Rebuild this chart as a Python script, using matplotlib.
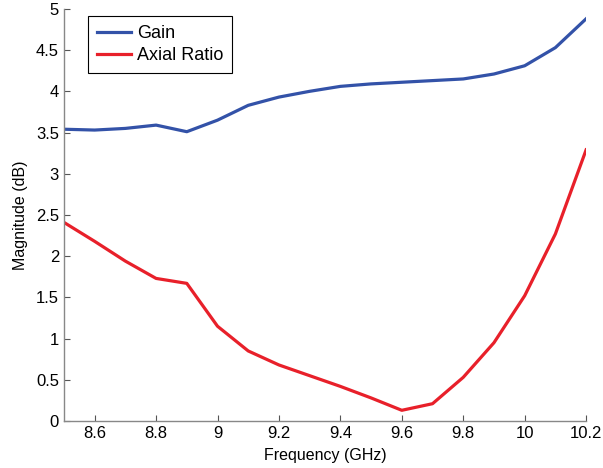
import numpy as np
import matplotlib
matplotlib.use('Agg')
import matplotlib.pyplot as plt

plt.rcParams['font.family'] = ['Liberation Sans', 'DejaVu Sans']

freq = [8.5, 8.6, 8.7, 8.8, 8.9, 9.0, 9.1, 9.2, 9.3, 9.4, 9.5, 9.6, 9.7, 9.8, 9.9, 10.0, 10.1, 10.2]
gain = [3.54, 3.53, 3.55, 3.59, 3.51, 3.65, 3.83, 3.93, 4.00, 4.06, 4.09, 4.11, 4.13, 4.15, 4.21, 4.31, 4.53, 4.88]
axial_ratio = [2.41, 2.18, 1.94, 1.73, 1.67, 1.15, 0.85, 0.68, 0.55, 0.42, 0.28, 0.13, 0.21, 0.53, 0.95, 1.52, 2.27, 3.29]

x_ticks = [8.6, 8.8, 9.0, 9.2, 9.4, 9.6, 9.8, 10.0, 10.2]
x_labels = ['8.6', '8.8', '9', '9.2', '9.4', '9.6', '9.8', '10', '10.2']
y_ticks = np.arange(0, 5.01, 0.5)
y_labels = ['0', '0.5', '1', '1.5', '2', '2.5', '3', '3.5', '4', '4.5', '5']

fig = plt.figure(figsize=(6.03, 4.68), dpi=100)
ax = fig.add_axes([0.106, 0.1004, 0.866, 0.8806])

ax.plot(freq, gain, color='#3352A8', linewidth=2.3, label='Gain')
ax.plot(freq, axial_ratio, color='#E8202A', linewidth=2.3, label='Axial Ratio')

ax.set_xlim(8.5, 10.2)
ax.set_ylim(0, 5)
ax.set_xticks(x_ticks, x_labels)
ax.set_yticks(y_ticks, y_labels)
ax.tick_params(direction='in', length=4, width=0.8, colors='#555555', labelcolor='black', labelsize=12)
ax.set_xlabel('Frequency (GHz)', fontsize=11.5, labelpad=5)
ax.set_ylabel('Magnitude (dB)', fontsize=11.5, labelpad=6)

for side in ['top', 'right']:
    ax.spines[side].set_visible(False)
for side in ['left', 'bottom']:
    ax.spines[side].set_color('#888888')
    ax.spines[side].set_linewidth(1.0)

leg = ax.legend(loc='upper left', bbox_to_anchor=(0.046, 0.983), borderaxespad=0, fontsize=13,
                fancybox=False, handlelength=1.9, handletextpad=0.3, borderpad=0.5, labelspacing=0.3,
                framealpha=1)
leg.get_frame().set_edgecolor('black')
leg.get_frame().set_linewidth(0.8)

plt.savefig('out.png', dpi=100)
